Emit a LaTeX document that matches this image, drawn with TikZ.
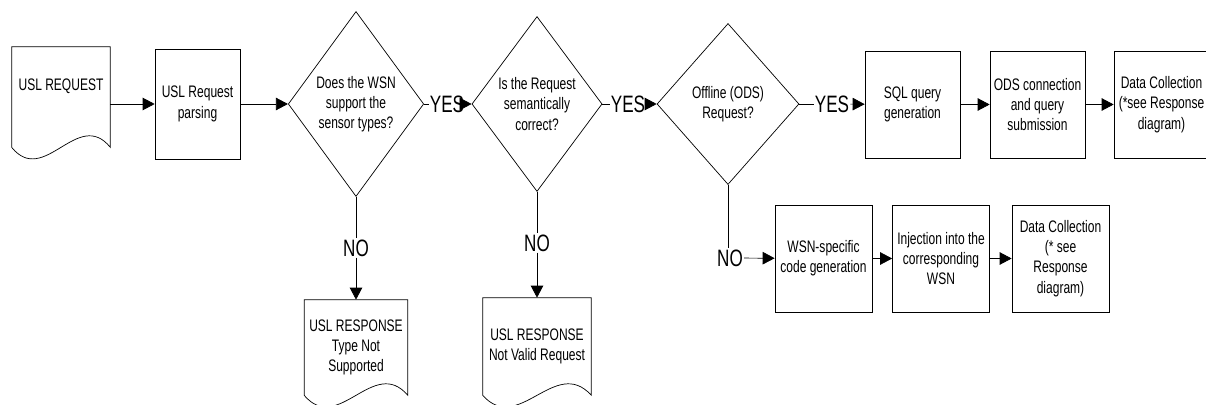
\documentclass[tikz,border=0pt]{standalone}
\usepackage{fontspec}
\setmainfont{Liberation Sans}[FakeStretch=0.72]
\usetikzlibrary{shapes.geometric,arrows.meta,calc}

% outline of a document symbol round a named node
\newcommand\docwave[1]{%
  \draw (#1.south west) -- (#1.north west) -- (#1.north east) -- (#1.south east)
    .. controls ($(#1.south west)!0.67!(#1.south east)+(0,-40)$)
    and ($(#1.south west)!0.33!(#1.south east)+(0,40)$) .. (#1.south west);}

\begin{document}
\begin{tikzpicture}[x=0.02cm, y=-0.02cm,
  every node/.style={font=\fontsize{9.5}{11.5}\selectfont, align=center},
  box/.style={draw, minimum width=1.9cm, minimum height=2.14cm, inner sep=1pt},
  docbox/.style={inner sep=1pt},
  decision/.style={draw, diamond, inner sep=0pt},
  flow/.style={-{Triangle[length=0.24cm,width=0.25cm]}},
  answer/.style={font=\fontsize{13.5}{15}\selectfont, inner sep=0.5pt}
]
  \useasboundingbox (0,0) rectangle (1206,405);

  % main row
  \node[docbox, minimum width=1.96cm, minimum height=2cm] (request) at (61,97) {USL REQUEST\\[3pt]};
  \node[box, minimum width=1.7cm, minimum height=2.2cm] (parsing) at (197.5,104) {USL Request\\parsing};
  \node[decision, minimum width=2.48cm, minimum height=3.7cm] (sensors) at (356,104) {Does the WSN\\support the\\sensor types?};
  \node[decision, minimum width=2.46cm, minimum height=3.5cm] (semantics) at (537,104) {Is the Request\\semantically\\correct?};
  \node[decision, minimum width=2.84cm, minimum height=3.22cm] (offline) at (728,104) {Offline (ODS)\\Request?};
  \node[box] (sql) at (912.5,104.5) {SQL query\\generation};
  \node[box] (ods) at (1037.5,104.5) {ODS connection\\and query\\submission};
  \node[box] (collectods) at (1161.5,104.5) {Data Collection\\(*see Response\\diagram)};

  % responses
  \node[docbox, minimum width=2.06cm, minimum height=1.9cm] (notsupported) at (356,347.5) {USL RESPONSE\\Type Not\\Supported};
  \node[docbox, minimum width=2.16cm, minimum height=1.94cm] (notvalid) at (537,346.5) {USL RESPONSE\\Not Valid Request};

  % WSN row
  \node[box, minimum width=1.94cm] (wsncode) at (823.5,258.5) {WSN-specific\\code generation};
  \node[box, minimum width=1.94cm] (injection) at (941,258.5) {Injection into the\\corresponding\\WSN};
  \node[box, minimum width=1.94cm] (collectwsn) at (1060.5,258.5) {Data Collection\\(* see\\Response\\diagram)};

  % answers
  \node[answer] (yes1) at (447,104) {YES};
  \node[answer] (yes2) at (628,104) {YES};
  \node[answer] (yes3) at (832,104) {YES};
  \node[answer] (no1) at (356,248) {NO};
  \node[answer] (no2) at (537,243) {NO};
  \node[answer] (no3) at (730,258) {NO};

  \docwave{request}
  \docwave{notsupported}
  \docwave{notvalid}

  \draw[flow] (request.east |- parsing) -- (parsing);
  \draw[flow] (parsing) -- (sensors);
  \draw (sensors) -- (yes1);
  \draw[flow] (yes1) -- (semantics);
  \draw (semantics) -- (yes2);
  \draw[flow] (yes2) -- (offline);
  \draw (offline) -- (yes3);
  \draw[flow] (yes3) -- (sql);
  \draw[flow] (sql) -- (ods);
  \draw[flow] (ods) -- (collectods);

  \draw (sensors) -- (no1);
  \draw[flow] (no1) -- (notsupported);
  \draw (semantics) -- (no2);
  \draw[flow] (no2) -- (notvalid);
  \draw (offline.south) -- (offline.south |- no3.north);
  \draw[flow] (no3) -- (wsncode);
  \draw[flow] (wsncode) -- (injection);
  \draw[flow] (injection) -- (collectwsn);
\end{tikzpicture}
\end{document}
